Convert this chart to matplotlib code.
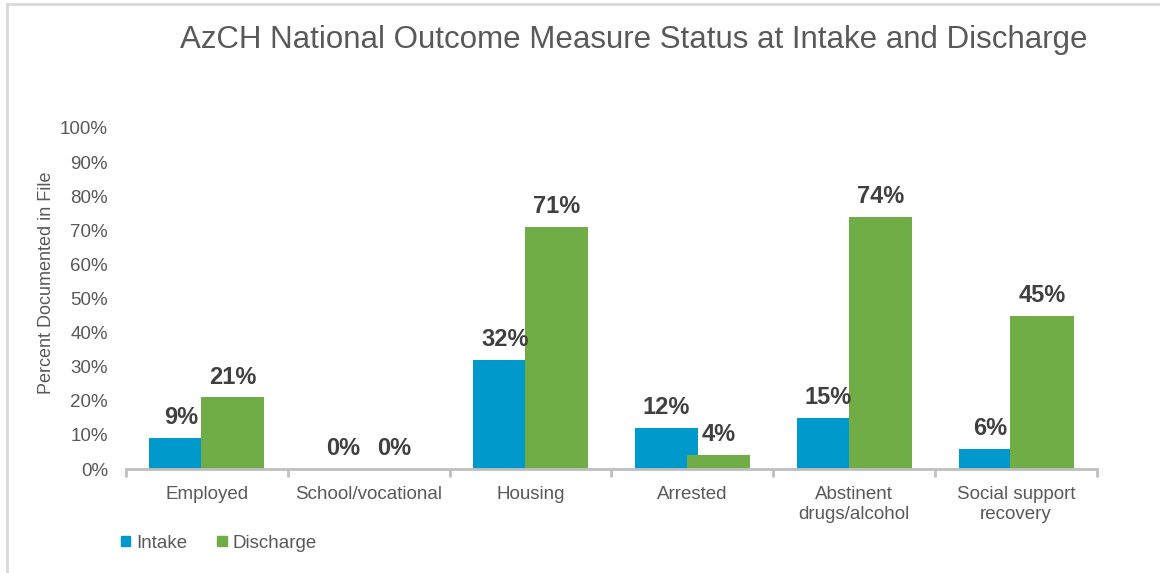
import matplotlib
matplotlib.use('Agg')
import matplotlib.pyplot as plt
import matplotlib.patches as mpatches
from matplotlib.lines import Line2D
import numpy as np

plt.rcParams['font.family'] = ['Liberation Sans', 'DejaVu Sans']

CATEGORIES = ['Employed', 'School/vocational', 'Housing', 'Arrested',
              'Abstinent\ndrugs/alcohol', 'Social support\nrecovery']
INTAKE = [9, 0, 32, 12, 15, 6]
DISCHARGE = [21, 0, 71, 4, 74, 45]
Y_TICKS = [0, 10, 20, 30, 40, 50, 60, 70, 80, 90, 100]

BLUE = '#0099CC'
GREEN = '#70AD47'
TEXT_GRAY = '#595959'
LABEL_DARK = '#404040'

fig = plt.figure(figsize=(11.6, 5.73), dpi=100)
ax = fig.add_axes([126 / 1160, 1 - 469 / 573, (1097 - 126) / 1160, (469 - 128) / 573])

x = np.arange(len(CATEGORIES))
width = 0.39
offset = 0.16

ax.bar(x - offset, INTAKE, width, color=BLUE, zorder=2)
ax.bar(x + offset, DISCHARGE, width, color=GREEN, zorder=3)

# value labels above each bar
for xi, v in zip(x - offset, INTAKE):
    ax.annotate('{}%'.format(v), (xi, v), xytext=(0, 10), textcoords='offset points',
                ha='center', va='baseline', fontsize=17, fontweight='bold',
                color=LABEL_DARK, zorder=5)
for xi, v in zip(x + offset, DISCHARGE):
    ax.annotate('{}%'.format(v), (xi, v), xytext=(0, 10), textcoords='offset points',
                ha='center', va='baseline', fontsize=17, fontweight='bold',
                color=LABEL_DARK, zorder=5)

ax.set_xlim(-0.5, len(CATEGORIES) - 0.5)
ax.set_ylim(0, 100)

ax.set_yticks(Y_TICKS)
ax.set_yticklabels(['{}%'.format(t) for t in Y_TICKS])
ax.tick_params(axis='y', length=0, pad=13, labelsize=13.5, labelcolor=TEXT_GRAY)

ax.set_xticks(x)
ax.set_xticklabels(CATEGORIES, linespacing=1.25)
ax.set_xticks(np.arange(len(CATEGORIES) + 1) - 0.5, minor=True)
ax.tick_params(axis='x', which='major', length=0, pad=12, labelsize=13.5,
               labelcolor=TEXT_GRAY)
ax.tick_params(axis='x', which='minor', length=6, width=2, color='#BFBFBF',
               direction='out')

for side in ['top', 'right', 'left']:
    ax.spines[side].set_visible(False)
ax.spines['bottom'].set_color('#BFBFBF')
ax.spines['bottom'].set_linewidth(2)
ax.spines['bottom'].set_zorder(4)

fig.text(634 / 1160, 1 - 40 / 573,
         'AzCH National Outcome Measure Status at Intake and Discharge',
         ha='center', va='center', fontsize=22.5, color=TEXT_GRAY)

fig.text(47 / 1160, 1 - 283 / 573, 'Percent Documented in File', rotation=90,
         ha='center', va='center', fontsize=13, color=TEXT_GRAY)

handles = [mpatches.Patch(color=BLUE, label='Intake'),
           mpatches.Patch(color=GREEN, label='Discharge')]
fig.legend(handles=handles, loc='center left', bbox_to_anchor=(121 / 1160, 1 - 543 / 573),
           ncol=2, frameon=False, fontsize=13.5, handlelength=0.5, handleheight=0.5,
           handletextpad=0.3, columnspacing=1.6, labelcolor=TEXT_GRAY,
           borderaxespad=0, borderpad=0)

# light frame along the top and left edges
fig.add_artist(Line2D([7 / 1160, 7 / 1160], [0, 1 - 3.5 / 573],
                      transform=fig.transFigure, color='#D9D9D9', lw=2))
fig.add_artist(Line2D([7 / 1160, 1], [1 - 3.5 / 573, 1 - 3.5 / 573],
                      transform=fig.transFigure, color='#D9D9D9', lw=2))

fig.savefig('out.png', dpi=100)
